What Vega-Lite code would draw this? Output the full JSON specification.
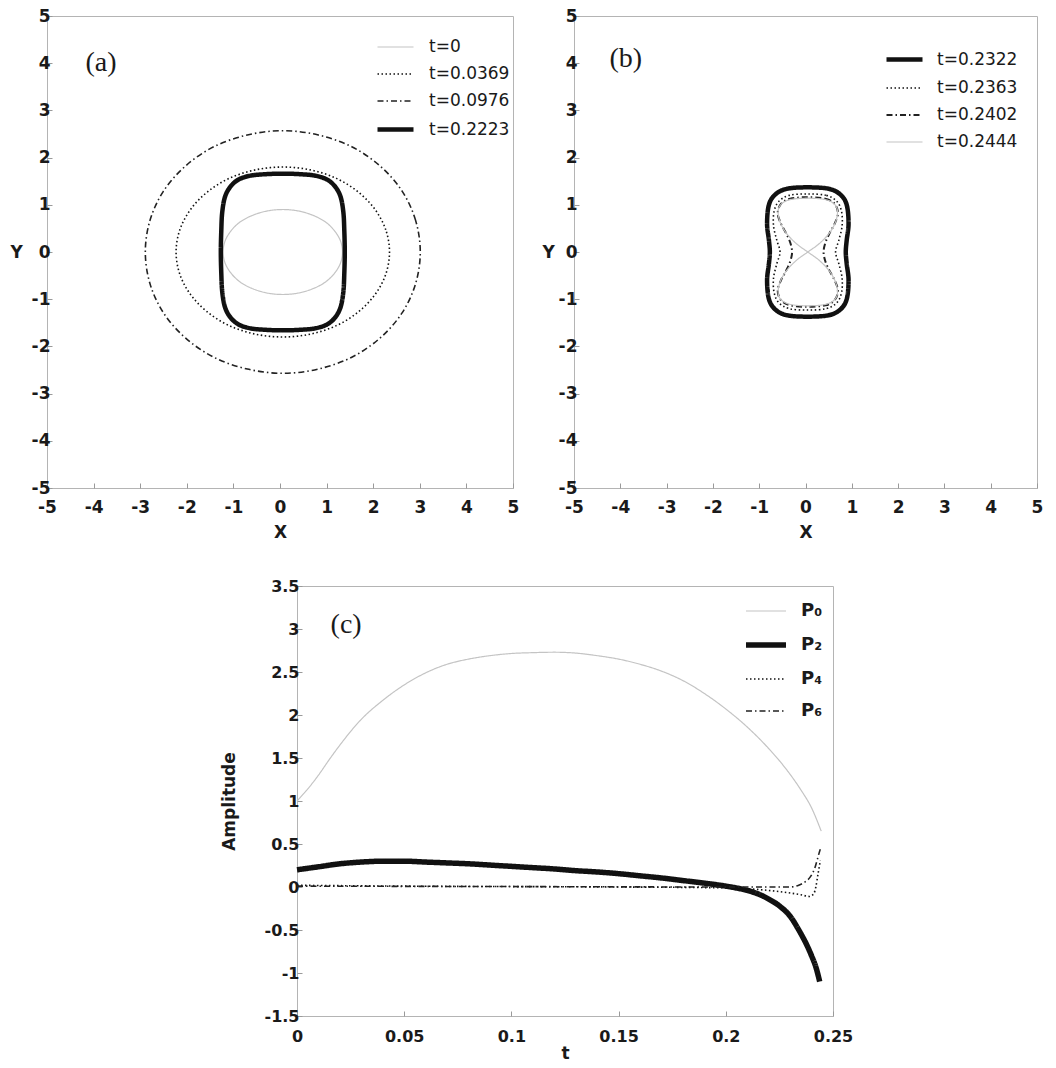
{
  "$schema": "https://vega.github.io/schema/vega-lite/v6.json",
  "background": "white",
  "padding": {"left": 9, "top": 6, "right": 5, "bottom": 5},
  "spacing": 36,
  "datasets": {
    "a": [
      {"s":"t=0","i":0,"x":1.34,"y":0},{"s":"t=0","i":1,"x":1.30,"y":0.23},{"s":"t=0","i":2,"x":1.17,"y":0.45},{"s":"t=0","i":3,"x":0.97,"y":0.64},{"s":"t=0","i":4,"x":0.70,"y":0.78},{"s":"t=0","i":5,"x":0.39,"y":0.87},{"s":"t=0","i":6,"x":0.06,"y":0.90},{"s":"t=0","i":7,"x":-0.27,"y":0.87},{"s":"t=0","i":8,"x":-0.58,"y":0.78},{"s":"t=0","i":9,"x":-0.85,"y":0.64},{"s":"t=0","i":10,"x":-1.05,"y":0.45},{"s":"t=0","i":11,"x":-1.18,"y":0.23},{"s":"t=0","i":12,"x":-1.22,"y":0},{"s":"t=0","i":13,"x":-1.18,"y":-0.23},{"s":"t=0","i":14,"x":-1.05,"y":-0.45},{"s":"t=0","i":15,"x":-0.85,"y":-0.64},{"s":"t=0","i":16,"x":-0.58,"y":-0.78},{"s":"t=0","i":17,"x":-0.27,"y":-0.87},{"s":"t=0","i":18,"x":0.06,"y":-0.90},{"s":"t=0","i":19,"x":0.39,"y":-0.87},{"s":"t=0","i":20,"x":0.70,"y":-0.78},{"s":"t=0","i":21,"x":0.97,"y":-0.64},{"s":"t=0","i":22,"x":1.17,"y":-0.45},{"s":"t=0","i":23,"x":1.30,"y":-0.23},
      {"s":"t=0.0369","i":0,"x":2.35,"y":0},{"s":"t=0.0369","i":1,"x":2.27,"y":0.47},{"s":"t=0.0369","i":2,"x":2.04,"y":0.90},{"s":"t=0.0369","i":3,"x":1.68,"y":1.27},{"s":"t=0.0369","i":4,"x":1.21,"y":1.56},{"s":"t=0.0369","i":5,"x":0.65,"y":1.74},{"s":"t=0.0369","i":6,"x":0.06,"y":1.80},{"s":"t=0.0369","i":7,"x":-0.53,"y":1.74},{"s":"t=0.0369","i":8,"x":-1.09,"y":1.56},{"s":"t=0.0369","i":9,"x":-1.56,"y":1.27},{"s":"t=0.0369","i":10,"x":-1.92,"y":0.90},{"s":"t=0.0369","i":11,"x":-2.15,"y":0.47},{"s":"t=0.0369","i":12,"x":-2.23,"y":0},{"s":"t=0.0369","i":13,"x":-2.15,"y":-0.47},{"s":"t=0.0369","i":14,"x":-1.92,"y":-0.90},{"s":"t=0.0369","i":15,"x":-1.56,"y":-1.27},{"s":"t=0.0369","i":16,"x":-1.09,"y":-1.56},{"s":"t=0.0369","i":17,"x":-0.53,"y":-1.74},{"s":"t=0.0369","i":18,"x":0.06,"y":-1.80},{"s":"t=0.0369","i":19,"x":0.65,"y":-1.74},{"s":"t=0.0369","i":20,"x":1.21,"y":-1.56},{"s":"t=0.0369","i":21,"x":1.68,"y":-1.27},{"s":"t=0.0369","i":22,"x":2.04,"y":-0.90},{"s":"t=0.0369","i":23,"x":2.27,"y":-0.47},
      {"s":"t=0.0976","i":0,"x":3.01,"y":0},{"s":"t=0.0976","i":1,"x":2.91,"y":0.67},{"s":"t=0.0976","i":2,"x":2.62,"y":1.29},{"s":"t=0.0976","i":3,"x":2.15,"y":1.82},{"s":"t=0.0976","i":4,"x":1.54,"y":2.23},{"s":"t=0.0976","i":5,"x":0.82,"y":2.48},{"s":"t=0.0976","i":6,"x":0.06,"y":2.57},{"s":"t=0.0976","i":7,"x":-0.70,"y":2.48},{"s":"t=0.0976","i":8,"x":-1.42,"y":2.23},{"s":"t=0.0976","i":9,"x":-2.03,"y":1.82},{"s":"t=0.0976","i":10,"x":-2.50,"y":1.29},{"s":"t=0.0976","i":11,"x":-2.79,"y":0.67},{"s":"t=0.0976","i":12,"x":-2.89,"y":0},{"s":"t=0.0976","i":13,"x":-2.79,"y":-0.67},{"s":"t=0.0976","i":14,"x":-2.50,"y":-1.29},{"s":"t=0.0976","i":15,"x":-2.03,"y":-1.82},{"s":"t=0.0976","i":16,"x":-1.42,"y":-2.23},{"s":"t=0.0976","i":17,"x":-0.70,"y":-2.48},{"s":"t=0.0976","i":18,"x":0.06,"y":-2.57},{"s":"t=0.0976","i":19,"x":0.82,"y":-2.48},{"s":"t=0.0976","i":20,"x":1.54,"y":-2.23},{"s":"t=0.0976","i":21,"x":2.15,"y":-1.82},{"s":"t=0.0976","i":22,"x":2.62,"y":-1.29},{"s":"t=0.0976","i":23,"x":2.91,"y":-0.67},
      {"s":"t=0.2223","i":0,"x":1.39,"y":0},{"s":"t=0.2223","i":1,"x":1.38,"y":0.45},{"s":"t=0.2223","i":2,"x":1.36,"y":0.84},{"s":"t=0.2223","i":3,"x":1.30,"y":1.17},{"s":"t=0.2223","i":4,"x":1.18,"y":1.39},{"s":"t=0.2223","i":5,"x":1.00,"y":1.54},{"s":"t=0.2223","i":6,"x":0.74,"y":1.62},{"s":"t=0.2223","i":7,"x":0.40,"y":1.65},{"s":"t=0.2223","i":8,"x":0.06,"y":1.66},{"s":"t=0.2223","i":9,"x":-0.28,"y":1.65},{"s":"t=0.2223","i":10,"x":-0.62,"y":1.62},{"s":"t=0.2223","i":11,"x":-0.88,"y":1.54},{"s":"t=0.2223","i":12,"x":-1.06,"y":1.39},{"s":"t=0.2223","i":13,"x":-1.18,"y":1.17},{"s":"t=0.2223","i":14,"x":-1.24,"y":0.84},{"s":"t=0.2223","i":15,"x":-1.26,"y":0.45},{"s":"t=0.2223","i":16,"x":-1.27,"y":0},{"s":"t=0.2223","i":17,"x":-1.26,"y":-0.45},{"s":"t=0.2223","i":18,"x":-1.24,"y":-0.84},{"s":"t=0.2223","i":19,"x":-1.18,"y":-1.17},{"s":"t=0.2223","i":20,"x":-1.06,"y":-1.39},{"s":"t=0.2223","i":21,"x":-0.88,"y":-1.54},{"s":"t=0.2223","i":22,"x":-0.62,"y":-1.62},{"s":"t=0.2223","i":23,"x":-0.28,"y":-1.65},{"s":"t=0.2223","i":24,"x":0.06,"y":-1.66},{"s":"t=0.2223","i":25,"x":0.40,"y":-1.65},{"s":"t=0.2223","i":26,"x":0.74,"y":-1.62},{"s":"t=0.2223","i":27,"x":1.00,"y":-1.54},{"s":"t=0.2223","i":28,"x":1.18,"y":-1.39},{"s":"t=0.2223","i":29,"x":1.30,"y":-1.17},{"s":"t=0.2223","i":30,"x":1.36,"y":-0.84},{"s":"t=0.2223","i":31,"x":1.38,"y":-0.45}
    ],
    "b": [
      {"s":"t=0.2322","i":0,"x":0.05,"y":1.37},{"s":"t=0.2322","i":1,"x":0.50,"y":1.34},{"s":"t=0.2322","i":2,"x":0.75,"y":1.22},{"s":"t=0.2322","i":3,"x":0.89,"y":1.00},{"s":"t=0.2322","i":4,"x":0.93,"y":0.60},{"s":"t=0.2322","i":5,"x":0.89,"y":0.25},{"s":"t=0.2322","i":6,"x":0.87,"y":0},{"s":"t=0.2322","i":7,"x":0.89,"y":-0.25},{"s":"t=0.2322","i":8,"x":0.93,"y":-0.60},{"s":"t=0.2322","i":9,"x":0.89,"y":-1.00},{"s":"t=0.2322","i":10,"x":0.75,"y":-1.22},{"s":"t=0.2322","i":11,"x":0.50,"y":-1.34},{"s":"t=0.2322","i":12,"x":0.05,"y":-1.37},{"s":"t=0.2322","i":13,"x":-0.40,"y":-1.34},{"s":"t=0.2322","i":14,"x":-0.65,"y":-1.22},{"s":"t=0.2322","i":15,"x":-0.79,"y":-1.00},{"s":"t=0.2322","i":16,"x":-0.83,"y":-0.60},{"s":"t=0.2322","i":17,"x":-0.79,"y":-0.25},{"s":"t=0.2322","i":18,"x":-0.77,"y":0},{"s":"t=0.2322","i":19,"x":-0.79,"y":0.25},{"s":"t=0.2322","i":20,"x":-0.83,"y":0.60},{"s":"t=0.2322","i":21,"x":-0.79,"y":1.00},{"s":"t=0.2322","i":22,"x":-0.65,"y":1.22},{"s":"t=0.2322","i":23,"x":-0.40,"y":1.34},
      {"s":"t=0.2363","i":0,"x":0.05,"y":1.23},{"s":"t=0.2363","i":1,"x":0.45,"y":1.20},{"s":"t=0.2363","i":2,"x":0.68,"y":1.07},{"s":"t=0.2363","i":3,"x":0.78,"y":0.85},{"s":"t=0.2363","i":4,"x":0.79,"y":0.55},{"s":"t=0.2363","i":5,"x":0.72,"y":0.25},{"s":"t=0.2363","i":6,"x":0.65,"y":0},{"s":"t=0.2363","i":7,"x":0.72,"y":-0.25},{"s":"t=0.2363","i":8,"x":0.79,"y":-0.55},{"s":"t=0.2363","i":9,"x":0.78,"y":-0.85},{"s":"t=0.2363","i":10,"x":0.68,"y":-1.07},{"s":"t=0.2363","i":11,"x":0.45,"y":-1.20},{"s":"t=0.2363","i":12,"x":0.05,"y":-1.23},{"s":"t=0.2363","i":13,"x":-0.35,"y":-1.20},{"s":"t=0.2363","i":14,"x":-0.58,"y":-1.07},{"s":"t=0.2363","i":15,"x":-0.68,"y":-0.85},{"s":"t=0.2363","i":16,"x":-0.69,"y":-0.55},{"s":"t=0.2363","i":17,"x":-0.62,"y":-0.25},{"s":"t=0.2363","i":18,"x":-0.55,"y":0},{"s":"t=0.2363","i":19,"x":-0.62,"y":0.25},{"s":"t=0.2363","i":20,"x":-0.69,"y":0.55},{"s":"t=0.2363","i":21,"x":-0.68,"y":0.85},{"s":"t=0.2363","i":22,"x":-0.58,"y":1.07},{"s":"t=0.2363","i":23,"x":-0.35,"y":1.20},
      {"s":"t=0.2402","i":0,"x":0.05,"y":1.16},{"s":"t=0.2402","i":1,"x":0.43,"y":1.13},{"s":"t=0.2402","i":2,"x":0.63,"y":1.02},{"s":"t=0.2402","i":3,"x":0.70,"y":0.82},{"s":"t=0.2402","i":4,"x":0.63,"y":0.60},{"s":"t=0.2402","i":5,"x":0.52,"y":0.40},{"s":"t=0.2402","i":6,"x":0.43,"y":0.20},{"s":"t=0.2402","i":7,"x":0.39,"y":0},{"s":"t=0.2402","i":8,"x":0.43,"y":-0.20},{"s":"t=0.2402","i":9,"x":0.52,"y":-0.40},{"s":"t=0.2402","i":10,"x":0.63,"y":-0.60},{"s":"t=0.2402","i":11,"x":0.70,"y":-0.82},{"s":"t=0.2402","i":12,"x":0.63,"y":-1.02},{"s":"t=0.2402","i":13,"x":0.43,"y":-1.13},{"s":"t=0.2402","i":14,"x":0.05,"y":-1.16},{"s":"t=0.2402","i":15,"x":-0.33,"y":-1.13},{"s":"t=0.2402","i":16,"x":-0.53,"y":-1.02},{"s":"t=0.2402","i":17,"x":-0.60,"y":-0.82},{"s":"t=0.2402","i":18,"x":-0.53,"y":-0.60},{"s":"t=0.2402","i":19,"x":-0.42,"y":-0.40},{"s":"t=0.2402","i":20,"x":-0.33,"y":-0.20},{"s":"t=0.2402","i":21,"x":-0.29,"y":0},{"s":"t=0.2402","i":22,"x":-0.33,"y":0.20},{"s":"t=0.2402","i":23,"x":-0.42,"y":0.40},{"s":"t=0.2402","i":24,"x":-0.53,"y":0.60},{"s":"t=0.2402","i":25,"x":-0.60,"y":0.82},{"s":"t=0.2402","i":26,"x":-0.53,"y":1.02},{"s":"t=0.2402","i":27,"x":-0.33,"y":1.13},
      {"s":"t=0.2444","i":0,"x":0.05,"y":0},{"s":"t=0.2444","i":1,"x":-0.20,"y":0.18},{"s":"t=0.2444","i":2,"x":-0.43,"y":0.42},{"s":"t=0.2444","i":3,"x":-0.57,"y":0.70},{"s":"t=0.2444","i":4,"x":-0.57,"y":0.95},{"s":"t=0.2444","i":5,"x":-0.37,"y":1.10},{"s":"t=0.2444","i":6,"x":0.05,"y":1.14},{"s":"t=0.2444","i":7,"x":0.47,"y":1.10},{"s":"t=0.2444","i":8,"x":0.67,"y":0.95},{"s":"t=0.2444","i":9,"x":0.67,"y":0.70},{"s":"t=0.2444","i":10,"x":0.53,"y":0.42},{"s":"t=0.2444","i":11,"x":0.30,"y":0.18},{"s":"t=0.2444","i":12,"x":0.05,"y":0},{"s":"t=0.2444","i":13,"x":-0.20,"y":-0.18},{"s":"t=0.2444","i":14,"x":-0.43,"y":-0.42},{"s":"t=0.2444","i":15,"x":-0.57,"y":-0.70},{"s":"t=0.2444","i":16,"x":-0.57,"y":-0.95},{"s":"t=0.2444","i":17,"x":-0.37,"y":-1.10},{"s":"t=0.2444","i":18,"x":0.05,"y":-1.14},{"s":"t=0.2444","i":19,"x":0.47,"y":-1.10},{"s":"t=0.2444","i":20,"x":0.67,"y":-0.95},{"s":"t=0.2444","i":21,"x":0.67,"y":-0.70},{"s":"t=0.2444","i":22,"x":0.53,"y":-0.42},{"s":"t=0.2444","i":23,"x":0.30,"y":-0.18}
    ],
    "c": [
      {"s":"P₀","t":0,"v":1.0},{"s":"P₀","t":0.005,"v":1.14},{"s":"P₀","t":0.01,"v":1.30},{"s":"P₀","t":0.015,"v":1.48},{"s":"P₀","t":0.02,"v":1.65},{"s":"P₀","t":0.03,"v":1.95},{"s":"P₀","t":0.04,"v":2.17},{"s":"P₀","t":0.05,"v":2.35},{"s":"P₀","t":0.06,"v":2.49},{"s":"P₀","t":0.07,"v":2.59},{"s":"P₀","t":0.08,"v":2.65},{"s":"P₀","t":0.09,"v":2.69},{"s":"P₀","t":0.10,"v":2.715},{"s":"P₀","t":0.11,"v":2.725},{"s":"P₀","t":0.12,"v":2.73},{"s":"P₀","t":0.13,"v":2.72},{"s":"P₀","t":0.14,"v":2.69},{"s":"P₀","t":0.15,"v":2.65},{"s":"P₀","t":0.16,"v":2.59},{"s":"P₀","t":0.17,"v":2.51},{"s":"P₀","t":0.18,"v":2.40},{"s":"P₀","t":0.19,"v":2.25},{"s":"P₀","t":0.20,"v":2.07},{"s":"P₀","t":0.21,"v":1.86},{"s":"P₀","t":0.22,"v":1.61},{"s":"P₀","t":0.23,"v":1.31},{"s":"P₀","t":0.235,"v":1.13},{"s":"P₀","t":0.24,"v":0.92},{"s":"P₀","t":0.2445,"v":0.65},
      {"s":"P₂","t":0,"v":0.20},{"s":"P₂","t":0.01,"v":0.235},{"s":"P₂","t":0.02,"v":0.27},{"s":"P₂","t":0.03,"v":0.29},{"s":"P₂","t":0.04,"v":0.30},{"s":"P₂","t":0.05,"v":0.30},{"s":"P₂","t":0.06,"v":0.29},{"s":"P₂","t":0.07,"v":0.28},{"s":"P₂","t":0.08,"v":0.27},{"s":"P₂","t":0.09,"v":0.255},{"s":"P₂","t":0.10,"v":0.24},{"s":"P₂","t":0.11,"v":0.225},{"s":"P₂","t":0.12,"v":0.21},{"s":"P₂","t":0.13,"v":0.19},{"s":"P₂","t":0.14,"v":0.175},{"s":"P₂","t":0.15,"v":0.155},{"s":"P₂","t":0.16,"v":0.13},{"s":"P₂","t":0.17,"v":0.105},{"s":"P₂","t":0.18,"v":0.075},{"s":"P₂","t":0.19,"v":0.045},{"s":"P₂","t":0.20,"v":0.01},{"s":"P₂","t":0.21,"v":-0.04},{"s":"P₂","t":0.215,"v":-0.08},{"s":"P₂","t":0.22,"v":-0.14},{"s":"P₂","t":0.225,"v":-0.22},{"s":"P₂","t":0.23,"v":-0.34},{"s":"P₂","t":0.2345,"v":-0.52},{"s":"P₂","t":0.2375,"v":-0.66},{"s":"P₂","t":0.24,"v":-0.80},{"s":"P₂","t":0.242,"v":-0.93},{"s":"P₂","t":0.2438,"v":-1.10},
      {"s":"P₄","t":0,"v":0.02},{"s":"P₄","t":0.05,"v":0.01},{"s":"P₄","t":0.10,"v":0.005},{"s":"P₄","t":0.15,"v":0.0},{"s":"P₄","t":0.20,"v":-0.01},{"s":"P₄","t":0.21,"v":-0.02},{"s":"P₄","t":0.22,"v":-0.04},{"s":"P₄","t":0.23,"v":-0.07},{"s":"P₄","t":0.235,"v":-0.09},{"s":"P₄","t":0.239,"v":-0.11},{"s":"P₄","t":0.241,"v":-0.08},{"s":"P₄","t":0.242,"v":0.0},{"s":"P₄","t":0.243,"v":0.15},{"s":"P₄","t":0.2437,"v":0.25},{"s":"P₄","t":0.2441,"v":0.31},
      {"s":"P₆","t":0,"v":0.01},{"s":"P₆","t":0.10,"v":0.005},{"s":"P₆","t":0.20,"v":0.0},{"s":"P₆","t":0.23,"v":0.0},{"s":"P₆","t":0.234,"v":0.02},{"s":"P₆","t":0.237,"v":0.06},{"s":"P₆","t":0.2395,"v":0.12},{"s":"P₆","t":0.2415,"v":0.22},{"s":"P₆","t":0.2428,"v":0.33},{"s":"P₆","t":0.2437,"v":0.41},{"s":"P₆","t":0.2442,"v":0.45}
    ]
  },
  "vconcat": [
    {
      "spacing": 21,
      "resolve": {"scale": {"x": "independent", "y": "independent", "color": "independent", "strokeDash": "independent", "strokeWidth": "independent"}, "legend": {"color": "independent", "strokeDash": "independent", "strokeWidth": "independent"}},
      "hconcat": [
        {
          "width": 466, "height": 472,
          "layer": [
            {
              "data": {"name": "a"},
              "mark": {"type": "line", "interpolate": "cardinal-closed"},
              "encoding": {
                "x": {"field": "x", "type": "quantitative", "scale": {"domain": [-5, 5], "nice": false, "zero": false}, "axis": {"values": [-5,-4,-3,-2,-1,0,1,2,3,4,5], "title": "X", "labelExpr": "'' + datum.value", "labelPadding": 16, "titlePadding": 9}},
                "y": {"field": "y", "type": "quantitative", "scale": {"domain": [-5, 5], "nice": false, "zero": false}, "axis": {"values": [-5,-4,-3,-2,-1,0,1,2,3,4,5], "title": "Y", "titleAngle": 0, "titleBaseline": "middle", "labelExpr": "'' + datum.value", "labelPadding": 2, "titlePadding": 15}},
                "order": {"field": "i", "type": "quantitative"},
                "color": {"field": "s", "type": "nominal", "scale": {"domain": ["t=0", "t=0.0369", "t=0.0976", "t=0.2223"], "range": ["#c4c4c4", "#111111", "#222222", "#111111"]}, "legend": {"title": null, "orient": "none", "legendX": 328, "legendY": 12, "symbolSize": 1296, "labelOffset": 13, "rowPadding": -7.3}},
                "strokeDash": {"field": "s", "type": "nominal", "scale": {"domain": ["t=0", "t=0.0369", "t=0.0976", "t=0.2223"], "range": [[1, 0], [1.5, 2.5], [6, 3, 1.5, 3], [1, 0]]}, "legend": {"title": null, "orient": "none", "legendX": 328, "legendY": 12, "symbolSize": 1296, "labelOffset": 13, "rowPadding": -7.3}},
                "strokeWidth": {"field": "s", "type": "nominal", "scale": {"type": "ordinal", "domain": ["t=0", "t=0.0369", "t=0.0976", "t=0.2223"], "range": [1.2, 1.6, 1.6, 4.5]}, "legend": {"title": null, "orient": "none", "legendX": 328, "legendY": 12, "symbolSize": 1296, "labelOffset": 13, "rowPadding": -7.3}}
              }
            },
            {
              "data": {"values": [{}]},
              "mark": {"type": "text", "font": "Liberation Serif", "fontSize": 28, "color": "#1a1a1a"},
              "encoding": {"x": {"datum": -3.84}, "y": {"datum": 4.0}, "text": {"value": "(a)"}}
            }
          ]
        },
        {
          "width": 463, "height": 472,
          "layer": [
            {
              "data": {"name": "b"},
              "mark": {"type": "line", "interpolate": "cardinal-closed"},
              "encoding": {
                "x": {"field": "x", "type": "quantitative", "scale": {"domain": [-5, 5], "nice": false, "zero": false}, "axis": {"values": [-5,-4,-3,-2,-1,0,1,2,3,4,5], "title": "X", "labelExpr": "'' + datum.value", "labelPadding": 16, "titlePadding": 9}},
                "y": {"field": "y", "type": "quantitative", "scale": {"domain": [-5, 5], "nice": false, "zero": false}, "axis": {"values": [-5,-4,-3,-2,-1,0,1,2,3,4,5], "title": "Y", "titleAngle": 0, "titleBaseline": "middle", "labelExpr": "'' + datum.value", "labelPadding": 2, "titlePadding": 10}},
                "order": {"field": "i", "type": "quantitative"},
                "color": {"field": "s", "type": "nominal", "scale": {"domain": ["t=0.2322", "t=0.2363", "t=0.2402", "t=0.2444"], "range": ["#111111", "#111111", "#222222", "#c4c4c4"]}, "legend": {"title": null, "orient": "none", "legendX": 310, "legendY": 23, "symbolSize": 1296, "labelOffset": 12, "rowPadding": -6.5}},
                "strokeDash": {"field": "s", "type": "nominal", "scale": {"domain": ["t=0.2322", "t=0.2363", "t=0.2402", "t=0.2444"], "range": [[1, 0], [1.5, 2.5], [6, 3, 1.5, 3], [1, 0]]}, "legend": {"title": null, "orient": "none", "legendX": 310, "legendY": 23, "symbolSize": 1296, "labelOffset": 12, "rowPadding": -6.5}},
                "strokeWidth": {"field": "s", "type": "nominal", "scale": {"type": "ordinal", "domain": ["t=0.2322", "t=0.2363", "t=0.2402", "t=0.2444"], "range": [4.5, 1.6, 2, 1.2]}, "legend": {"title": null, "orient": "none", "legendX": 310, "legendY": 23, "symbolSize": 1296, "labelOffset": 12, "rowPadding": -6.5}}
              }
            },
            {
              "data": {"values": [{}]},
              "mark": {"type": "text", "font": "Liberation Serif", "fontSize": 28, "color": "#1a1a1a"},
              "encoding": {"x": {"datum": -3.88}, "y": {"datum": 4.09}, "text": {"value": "(b)"}}
            }
          ]
        }
      ]
    },
    {
      "spacing": 10,
      "resolve": {"scale": {"x": "independent", "y": "independent", "color": "independent", "strokeDash": "independent", "strokeWidth": "independent"}, "legend": {"color": "independent", "strokeDash": "independent", "strokeWidth": "independent"}},
      "hconcat": [
        {
          "width": 162, "height": 10,
          "data": {"values": []},
          "mark": {"type": "point"},
          "view": {"stroke": null}
        },
        {
          "width": 536, "height": 430,
          "layer": [
            {
              "data": {"name": "c"},
              "mark": {"type": "line", "interpolate": "monotone"},
              "encoding": {
                "x": {"field": "t", "type": "quantitative", "scale": {"domain": [0, 0.25], "nice": false, "zero": false}, "axis": {"values": [0, 0.05, 0.1, 0.15, 0.2, 0.25], "title": "t", "labelExpr": "'' + datum.value", "labelFontSize": 16, "labelPadding": 17, "titlePadding": 1}},
                "y": {"field": "v", "type": "quantitative", "scale": {"domain": [-1.5, 3.5], "nice": false, "zero": false}, "axis": {"values": [-1.5, -1, -0.5, 0, 0.5, 1, 1.5, 2, 2.5, 3, 3.5], "title": "Amplitude", "labelExpr": "'' + datum.value", "labelFontSize": 16, "titlePadding": 26}},
                "color": {"field": "s", "type": "nominal", "scale": {"domain": ["P₀", "P₂", "P₄", "P₆"], "range": ["#c4c4c4", "#111111", "#111111", "#222222"]}, "legend": {"title": null, "orient": "none", "legendX": 446, "legendY": 4, "symbolSize": 1600, "labelOffset": 12, "rowPadding": 2, "labelFontWeight": "bold", "labelFontSize": 18}},
                "strokeDash": {"field": "s", "type": "nominal", "scale": {"domain": ["P₀", "P₂", "P₄", "P₆"], "range": [[1, 0], [1, 0], [1.5, 2.5], [6, 3, 1.5, 3]]}, "legend": {"title": null, "orient": "none", "legendX": 446, "legendY": 4, "symbolSize": 1600, "labelOffset": 12, "rowPadding": 2, "labelFontWeight": "bold", "labelFontSize": 18}},
                "strokeWidth": {"field": "s", "type": "nominal", "scale": {"type": "ordinal", "domain": ["P₀", "P₂", "P₄", "P₆"], "range": [1.2, 5.5, 1.6, 1.6]}, "legend": {"title": null, "orient": "none", "legendX": 446, "legendY": 4, "symbolSize": 1600, "labelOffset": 12, "rowPadding": 2, "labelFontWeight": "bold", "labelFontSize": 18}}
              }
            },
            {
              "data": {"values": [{}]},
              "mark": {"type": "text", "font": "Liberation Serif", "fontSize": 28, "color": "#1a1a1a"},
              "encoding": {"x": {"datum": 0.0229}, "y": {"datum": 3.05}, "text": {"value": "(c)"}}
            }
          ]
        }
      ]
    }
  ],
  "resolve": {"scale": {"x": "independent", "y": "independent", "color": "independent", "strokeDash": "independent", "strokeWidth": "independent"}, "legend": {"color": "independent", "strokeDash": "independent", "strokeWidth": "independent"}},
  "config": {
    "font": "DejaVu Sans",
    "view": {"stroke": "#b4b4b4", "strokeWidth": 1},
    "axis": {"domain": false, "grid": false, "ticks": true, "tickColor": "#9a9a9a", "tickSize": -5, "tickWidth": 1, "labelFont": "DejaVu Sans", "labelFontWeight": "bold", "labelFontSize": 17, "labelColor": "#1a1a1a", "labelPadding": 3, "labelFlush": false, "labelOverlap": false, "titleFont": "DejaVu Sans", "titleFontWeight": "bold", "titleFontSize": 17, "titleColor": "#1a1a1a"},
    "legend": {"padding": 0, "labelFont": "DejaVu Sans", "labelFontSize": 17, "labelColor": "#1a1a1a", "symbolType": "stroke"}
  }
}
